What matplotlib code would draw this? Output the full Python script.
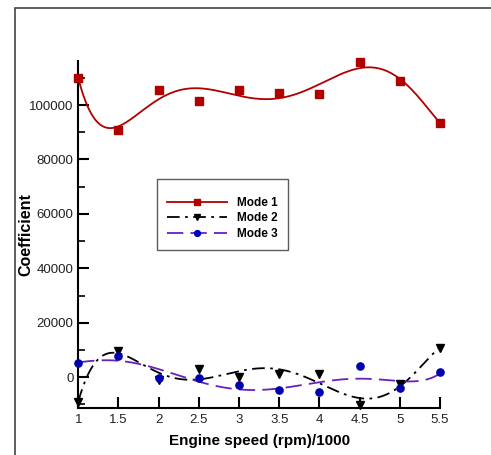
import numpy as np
import matplotlib.pyplot as plt
from matplotlib.patches import Rectangle
from matplotlib.ticker import MultipleLocator

plt.rcParams['font.family'] = ['Liberation Sans', 'DejaVu Sans']

speed = np.array([1, 1.5, 2, 2.5, 3, 3.5, 4, 4.5, 5, 5.5])
speed_labels = ['1', '1.5', '2', '2.5', '3', '3.5', '4', '4.5', '5', '5.5']
mode1 = np.array([110000, 90900, 105600, 101600, 105600, 104400, 104100, 115900, 108900, 93500])
mode2 = np.array([-9000, 9700, -1000, 3000, 200, 1300, 1300, -10200, -2500, 10900])
mode3 = np.array([5100, 7900, -300, -100, -2700, -4800, -5500, 4300, -3800, 1800])

red = '#b00000'
purple = '#6a1fc0'
blue = '#0000b0'
dashdot = (7, 3, 1.5, 3)
dash = (9, 4)

fig = plt.figure(figsize=(4.91, 4.55), dpi=100)
ax = fig.add_axes([0.1595, 0.1033, 0.7365, 0.7627])

# frame around the picture (only top and left visible)
fig.patches.append(Rectangle((15 / 491, -0.1), 1.2, 0.1 + (455 - 7.5) / 455,
                             transform=fig.transFigure, fill=False,
                             edgecolor='#444444', linewidth=1.2))

xs = np.linspace(1, 5.5, 300)


def fit(y, deg):
    return np.polyval(np.polyfit(speed, y, deg), xs)


ax.plot(xs, fit(mode1, 6), color=red, lw=1.3)
ax.plot(xs, fit(mode2, 7), color='black', lw=1.3, dashes=dashdot)
ax.plot(xs, fit(mode3, 6), color=purple, lw=1.3, dashes=dash)

ax.plot(speed, mode1, 's', color=red, ms=5.2, clip_on=False, zorder=4)
ax.plot(speed, mode2, 'v', color='black', ms=5.8, clip_on=False, zorder=4)
ax.plot(speed, mode3, 'o', color=blue, ms=5.2, clip_on=False, zorder=4)

# legend proxies
h1, = ax.plot([], [], color=red, lw=1.3, marker='s', ms=4.2, label='Mode 1')
h2, = ax.plot([], [], color='black', lw=1.3, dashes=dashdot, marker='v', ms=4.5, label='Mode 2')
h3, = ax.plot([], [], color=purple, lw=1.3, dashes=dash, marker='o', ms=4.2,
              mfc=blue, mec=blue, label='Mode 3')
leg = ax.legend(handles=[h1, h2, h3], loc='upper left', bbox_to_anchor=(0.2176, 0.66),
                borderaxespad=0, frameon=True, fancybox=False, edgecolor='#333333',
                handlelength=5.1, handletextpad=0.85, borderpad=0.85, labelspacing=0.31,
                prop={'weight': 'bold', 'size': 8.5}, title=' ', title_fontsize=3)
leg.get_frame().set_linewidth(1.0)

ax.set_xlim(1, 5.5)
ax.set_ylim(-11300, 116200)
ax.yaxis.set_major_locator(MultipleLocator(20000))
ax.yaxis.set_minor_locator(MultipleLocator(10000))
ax.set_xticks(speed)
ax.set_xticklabels(speed_labels)

for s in ['top', 'right']:
    ax.spines[s].set_visible(False)
for s in ['left', 'bottom']:
    ax.spines[s].set_linewidth(1.5)

ax.tick_params(which='major', direction='in', length=8, width=1.5, labelsize=9.5, labelcolor='#222222')
ax.tick_params(which='minor', direction='in', length=5, width=1.2)
ax.tick_params(axis='x', pad=4)

ax.set_xlabel('Engine speed (rpm)/1000', fontsize=11, fontweight='bold', labelpad=6)
ax.set_ylabel('Coefficient', fontsize=11.5, fontweight='bold')
ax.yaxis.set_label_coords(-0.125, 0.5)

fig.savefig('out.png', dpi=100)
